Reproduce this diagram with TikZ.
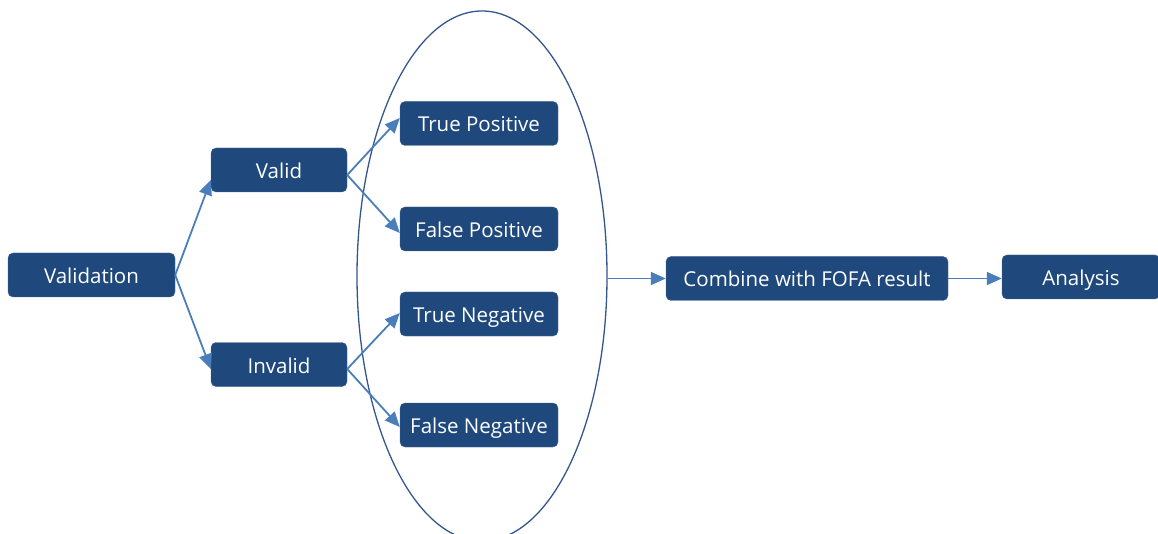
\documentclass[tikz,border=0pt]{standalone}
\usepackage{fontspec}
\setmainfont{Open Sans}
\usetikzlibrary{arrows.meta,shapes.geometric}
\definecolor{boxblue}{RGB}{31,73,125}
\definecolor{linkblue}{RGB}{74,126,187}
\definecolor{ringblue}{RGB}{52,86,140}

\tikzset{%
  >={Triangle[length=15pt,width=13pt]},
  stage/.style={rounded corners=5pt, fill=boxblue, draw=boxblue!85!white,
    text=white, minimum height=44pt, inner sep=0pt,
    text height=17pt, text depth=0pt,
    font=\fontsize{20.5}{24}\selectfont},
  link/.style={->, draw=linkblue, fill=linkblue, line width=1.8pt}
}

\begin{document}
\begin{tikzpicture}[x=1pt,y=-1pt]
     \useasboundingbox (0,0) rectangle (1158,534);
     % the ring round the four outcomes
     \node[ellipse, draw=ringblue, line width=1.3pt, inner sep=0pt,
           minimum width=250pt, minimum height=530pt] (group) at (482,276) {};

     \node[stage, minimum width=167pt] (validation) at (91.5,275) {Validation};
     \node[stage, minimum width=136pt] (valid) at (279,170) {Valid};
     \node[stage, minimum width=136pt] (invalid) at (279,364.5) {Invalid};
     \foreach \n/\y/\t in
       { tp/123.5/True Positive,
         fp/229/False Positive,
         tn/314/True Negative,
         fn/425/False Negative }
       \node[stage, minimum width=158pt] (\n) at (479,\y) {\t};
     \node[stage, minimum width=282pt] (combine) at (807,278.5) {Combine with FOFA result};
     \node[stage, minimum width=158pt] (analysis) at (1081,277) {Analysis};

     \draw[link] (validation.east) -- ([yshift=-10pt]valid.west);
     \draw[link] (validation.east) -- ([yshift=-4.5pt]invalid.west);
     \draw[link] ([yshift=-5pt]valid.east) -- ([yshift=5.5pt]tp.west);
     \draw[link] ([yshift=-5pt]valid.east) -- ([yshift=-4pt]fp.west);
     \draw[link] ([yshift=-4.5pt]invalid.east) -- ([yshift=1pt]tn.west);
     \draw[link] ([yshift=-4.5pt]invalid.east) -- ([yshift=-2pt]fn.west);

     \draw[link] (group.east |- combine.west) -- (combine.west);
     \draw[link] (combine.east) -- (combine.east -| analysis.west);
\end{tikzpicture}
\end{document}
